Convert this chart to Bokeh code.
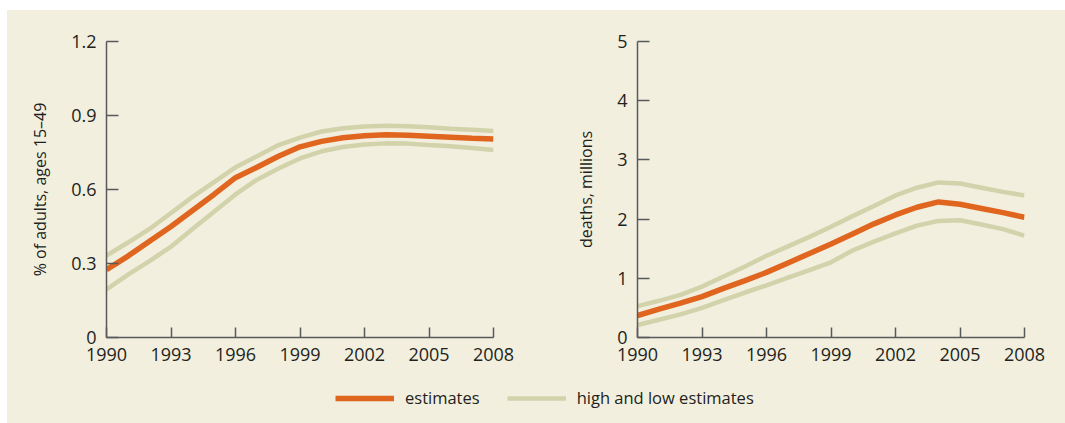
from bokeh.plotting import figure
from bokeh.layouts import column, row
from bokeh.models import FixedTicker, Legend, LegendItem, Range1d
from bokeh.embed import file_html
from bokeh.resources import INLINE

# ---------------- data ----------------
years = list(range(1990, 2009))

prev_est = [0.275, 0.33, 0.39, 0.45, 0.515, 0.58, 0.648, 0.69, 0.735, 0.773,
            0.795, 0.81, 0.818, 0.822, 0.82, 0.816, 0.812, 0.808, 0.805]
prev_high = [0.332, 0.385, 0.44, 0.505, 0.57, 0.63, 0.69, 0.735, 0.78, 0.81,
             0.835, 0.848, 0.855, 0.858, 0.856, 0.852, 0.846, 0.842, 0.837]
prev_low = [0.195, 0.255, 0.31, 0.368, 0.44, 0.51, 0.58, 0.64, 0.685, 0.726,
            0.755, 0.772, 0.782, 0.787, 0.786, 0.78, 0.775, 0.768, 0.76]

death_est = [0.37, 0.48, 0.58, 0.69, 0.83, 0.96, 1.10, 1.26, 1.42, 1.58,
             1.75, 1.92, 2.07, 2.20, 2.29, 2.25, 2.18, 2.11, 2.03]
death_high = [0.53, 0.62, 0.72, 0.86, 1.03, 1.20, 1.38, 1.54, 1.70, 1.87,
              2.05, 2.22, 2.40, 2.53, 2.62, 2.60, 2.53, 2.46, 2.40]
death_low = [0.21, 0.30, 0.39, 0.50, 0.63, 0.76, 0.88, 1.01, 1.14, 1.27,
             1.47, 1.62, 1.76, 1.89, 1.97, 1.98, 1.91, 1.83, 1.72]

x_ticks = [1990, 1993, 1996, 1999, 2002, 2005, 2008]
x_tick_labels = ["1990", "1993", "1996", "1999", "2002", "2005", "2008"]
prev_ticks = [0, 0.3, 0.6, 0.9, 1.2]
prev_tick_labels = ["0", "0.3", "0.6", "0.9", "1.2"]
death_ticks = [0, 1, 2, 3, 4, 5]
death_tick_labels = ["0", "1", "2", "3", "4", "5"]

prev_label = "% of adults, ages 15\u201349"
death_label = "deaths, millions"
legend_labels = ["estimates", "high and low estimates"]

# ---------------- style ----------------
BG = "#f2efdf"
ORANGE = "#e0661f"
GREEN = "#d2d3ab"
AXIS = "#58595b"
TEXT = "#231f20"
FONT = "Open Sans"


def panel(width, b_left, b_right, y_max, yt, ytl, ylabel, est, high, low):
    p = figure(width=width, height=357,
               x_range=Range1d(1990, 2008), y_range=Range1d(0, y_max),
               output_backend="svg", toolbar_location=None,
               min_border_left=b_left, min_border_right=b_right,
               min_border_top=31, min_border_bottom=30,
               background_fill_color=BG, border_fill_color=BG,
               outline_line_color=None)
    p.grid.visible = False
    p.line(years, high, line_color=GREEN, line_width=4.5)
    p.line(years, low, line_color=GREEN, line_width=4.5)
    p.line(years, est, line_color=ORANGE, line_width=5.5)

    for ax in (p.xaxis, p.yaxis):
        ax.axis_line_color = AXIS
        ax.axis_line_width = 1.5
        ax.major_tick_line_color = AXIS
        ax.major_tick_line_width = 1.5
        ax.major_tick_out = 0
        ax.minor_tick_line_color = None
        ax.major_label_text_font = FONT
        ax.major_label_text_font_size = "18px"
        ax.major_label_text_color = TEXT

    p.xaxis.ticker = FixedTicker(ticks=x_ticks)
    p.xaxis.major_label_overrides = dict(zip(x_ticks, x_tick_labels))
    p.xaxis.major_tick_in = 10
    p.xaxis.major_label_standoff = 10

    p.yaxis.ticker = FixedTicker(ticks=yt)
    p.yaxis.major_label_overrides = dict(zip(yt, ytl))
    p.yaxis.major_tick_in = 12
    p.yaxis.major_label_standoff = 10
    p.yaxis.axis_label = ylabel
    p.yaxis.axis_label_text_font = FONT
    p.yaxis.axis_label_text_font_size = "16px"
    p.yaxis.axis_label_text_font_style = "normal"
    p.yaxis.axis_label_text_color = TEXT
    p.yaxis.axis_label_standoff = 17
    return p


left = panel(558, 99, 72, 1.2, prev_ticks, prev_tick_labels, prev_label,
             prev_est, prev_high, prev_low)
right = panel(500, 72, 41, 5, death_ticks, death_tick_labels, death_label,
              death_est, death_high, death_low)

# legend strip: lines are drawn outside its visible range, only their legend glyphs show
lf = figure(width=1058, height=56, output_backend="svg", toolbar_location=None,
            x_range=Range1d(0, 1), y_range=Range1d(0, 1),
            x_axis_location=None, y_axis_location=None,
            min_border=0, background_fill_color=BG, border_fill_color=BG,
            outline_line_color=None)
lf.grid.visible = False
r1 = lf.line(years, prev_est, line_color=ORANGE, line_width=5.5)
r2 = lf.line(years, prev_high, line_color=GREEN, line_width=4.5)
legend = Legend(items=[LegendItem(label=legend_labels[0], renderers=[r1]),
                       LegendItem(label=legend_labels[1], renderers=[r2])],
                orientation="horizontal", location=(328, 14),
                glyph_width=59, glyph_height=20, label_height=20,
                label_standoff=11, spacing=27, padding=0, margin=0,
                border_line_color=None, background_fill_alpha=0,
                label_text_font=FONT, label_text_font_size="16.5px",
                label_text_color=TEXT)
lf.add_layout(legend)

top = row(left, right, styles={"background-color": BG})
layout = column(top, lf, styles={"background-color": BG}, margin=(10, 0, 0, 7))
open("out.html", "w").write(file_html(layout, INLINE))
